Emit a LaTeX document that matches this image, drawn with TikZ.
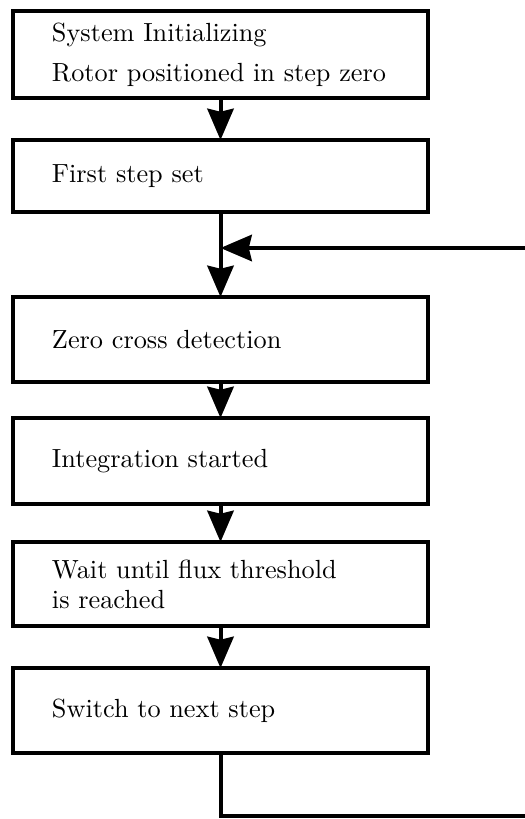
\documentclass[tikz,border=0pt]{standalone}
\usetikzlibrary{arrows.meta}
\begin{document}
\begin{tikzpicture}[x=0.4pt, y=-0.4pt,
  line width=1.6pt,
  every node/.style={font=\fontsize{10.5}{12}\selectfont},
  stepbox/.style={draw, rectangle, outer sep=0pt, inner xsep=15.6pt, inner ysep=2pt,
    text width=134.8pt, align=left, minimum width=166pt, minimum height=34.4pt},
  flow/.style={-{Stealth[length=12.5pt, width=10.5pt, inset=1.2pt]}}]
  \useasboundingbox (0,0) rectangle (525,819);

  % process steps
  \node[stepbox, minimum height=34.8pt] (init) at (220.5,54.5)
    {System Initializing\\[4pt]\mbox{Rotor positioned in step zero}};
  \node[stepbox, minimum height=28.8pt] (first) at (220.5,176) {First step set};
  \node[stepbox, minimum height=34pt] (zero) at (220.5,339.5) {Zero cross detection};
  \node[stepbox] (integ) at (220.5,461) {Integration started};
  \node[stepbox, minimum height=33.6pt] (wait) at (220.5,584)
    {Wait until flux threshold\\is reached};
  \node[stepbox, minimum height=34pt] (switch) at (220.5,710.5) {Switch to next step};

  % loop points
  \coordinate (merge) at (220.5,248);
  \coordinate (loopin) at (525,248);
  \coordinate (loopout) at (525,816);

  % connectors
  \draw[flow] (init.south) -- (first.north);
  \draw[flow] (first.south) -- (zero.north);
  \draw[flow] (loopin) -- (merge);
  \draw[flow] (zero.south) -- (integ.north);
  \draw[flow] (integ.south) -- (wait.north);
  \draw[flow] (wait.south) -- (switch.north);
  \draw (switch.south) |- (loopout);
\end{tikzpicture}
\end{document}
